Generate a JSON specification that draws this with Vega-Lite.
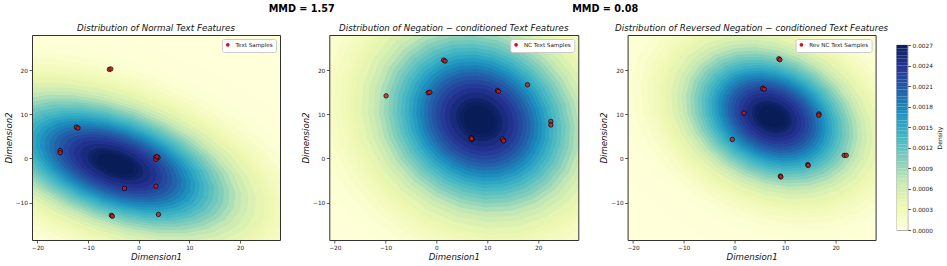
{
  "$schema": "https://vega.github.io/schema/vega-lite/v6.json",
  "background": "white",
  "padding": {"left": 4, "top": 3, "right": 3, "bottom": 4},
  "config": {
    "font": "DejaVu Sans",
    "view": {"fill": "#ffffd9", "stroke": null},
    "axis": {"grid": false, "domain": true, "domainColor": "#333333", "domainWidth": 1, "labelFontSize": 5.8, "labelColor": "#222222", "labelPadding": 1.5, "tickSize": 3, "tickColor": "#333333", "tickWidth": 0.8, "titleFontSize": 8.6, "titleFontStyle": "italic", "titleFontWeight": "normal", "titleColor": "#111111", "titlePadding": 2},
    "title": {"fontSize": 8.7, "fontStyle": "italic", "fontWeight": "normal", "color": "#111111", "offset": 2}
  },
  "datasets": {
    "mmd": [{"g": 1, "label": "MMD = 1.57"}, {"g": 2, "label": "MMD = 0.08"}],
    "pts": [
      {"p": 1, "x": -5.8, "y": 20.2}, {"p": 1, "x": -5.5, "y": 20.3},
      {"p": 1, "x": -12.3, "y": 7.1}, {"p": 1, "x": -12.0, "y": 6.9},
      {"p": 1, "x": -15.5, "y": 1.8}, {"p": 1, "x": -15.5, "y": 1.3},
      {"p": 1, "x": 3.4, "y": 0.3}, {"p": 1, "x": 3.8, "y": 0.2}, {"p": 1, "x": 3.4, "y": -0.2}, {"p": 1, "x": 3.6, "y": 0.4},
      {"p": 1, "x": -2.8, "y": -6.8}, {"p": 1, "x": 3.4, "y": -6.3},
      {"p": 1, "x": -5.4, "y": -12.9}, {"p": 1, "x": -5.2, "y": -13.1},
      {"p": 1, "x": 3.9, "y": -12.7},
      {"p": 2, "x": 1.4, "y": 22.3}, {"p": 2, "x": 1.7, "y": 22.1},
      {"p": 2, "x": -1.6, "y": 14.9}, {"p": 2, "x": -1.3, "y": 15.0},
      {"p": 2, "x": -9.9, "y": 14.2},
      {"p": 2, "x": 12.0, "y": 15.4}, {"p": 2, "x": 12.2, "y": 15.2},
      {"p": 2, "x": 17.9, "y": 16.7},
      {"p": 2, "x": 22.5, "y": 8.4}, {"p": 2, "x": 22.5, "y": 7.6},
      {"p": 2, "x": 6.8, "y": 4.7}, {"p": 2, "x": 7.0, "y": 4.3}, {"p": 2, "x": 6.9, "y": 4.5},
      {"p": 2, "x": 13.0, "y": 4.4}, {"p": 2, "x": 13.2, "y": 4.0},
      {"p": 3, "x": 8.8, "y": 22.6}, {"p": 3, "x": 9.0, "y": 22.4},
      {"p": 3, "x": 5.6, "y": 15.9}, {"p": 3, "x": 5.9, "y": 15.7},
      {"p": 3, "x": 1.9, "y": 10.3},
      {"p": 3, "x": 16.7, "y": 10.1}, {"p": 3, "x": 16.7, "y": 9.8},
      {"p": 3, "x": -0.4, "y": 4.3},
      {"p": 3, "x": 21.7, "y": 0.7}, {"p": 3, "x": 22.1, "y": 0.7},
      {"p": 3, "x": 14.5, "y": -1.4}, {"p": 3, "x": 14.6, "y": -1.6},
      {"p": 3, "x": 9.1, "y": -4.0}, {"p": 3, "x": 9.2, "y": -4.2}
    ],
    "dens": [
      {"p":1,"cx":-4.6,"cy":-1.3,"L":0.000002},{"p":1,"cx":-4.6,"cy":-1.3,"L":0.000005},{"p":1,"cx":-4.6,"cy":-1.3,"L":0.00001},{"p":1,"cx":-4.6,"cy":-1.3,"L":0.00002},{"p":1,"cx":-4.6,"cy":-1.3,"L":0.00005},{"p":1,"cx":-4.6,"cy":-1.3,"L":0.0001},{"p":1,"cx":-4.6,"cy":-1.3,"L":0.00015},{"p":1,"cx":-4.6,"cy":-1.3,"L":0.0002},{"p":1,"cx":-4.6,"cy":-1.3,"L":0.00025},{"p":1,"cx":-4.6,"cy":-1.3,"L":0.0003},{"p":1,"cx":-4.6,"cy":-1.3,"L":0.00035},{"p":1,"cx":-4.6,"cy":-1.3,"L":0.0004},{"p":1,"cx":-4.6,"cy":-1.3,"L":0.0005},{"p":1,"cx":-4.6,"cy":-1.3,"L":0.0006},{"p":1,"cx":-4.6,"cy":-1.3,"L":0.0007},{"p":1,"cx":-4.6,"cy":-1.3,"L":0.0008},{"p":1,"cx":-4.6,"cy":-1.3,"L":0.0009},{"p":1,"cx":-4.6,"cy":-1.3,"L":0.001},{"p":1,"cx":-4.6,"cy":-1.3,"L":0.0011},{"p":1,"cx":-4.6,"cy":-1.3,"L":0.0012},{"p":1,"cx":-4.6,"cy":-1.3,"L":0.0013},{"p":1,"cx":-4.6,"cy":-1.3,"L":0.0014},{"p":1,"cx":-4.6,"cy":-1.3,"L":0.0015},{"p":1,"cx":-4.6,"cy":-1.3,"L":0.0016},{"p":1,"cx":-4.6,"cy":-1.3,"L":0.0017},{"p":1,"cx":-4.6,"cy":-1.3,"L":0.0018},{"p":1,"cx":-4.6,"cy":-1.3,"L":0.0019},{"p":1,"cx":-4.6,"cy":-1.3,"L":0.002},{"p":1,"cx":-4.6,"cy":-1.3,"L":0.0021},{"p":1,"cx":-4.6,"cy":-1.3,"L":0.0022},{"p":1,"cx":-4.6,"cy":-1.3,"L":0.0023},{"p":1,"cx":-4.6,"cy":-1.3,"L":0.0024},{"p":1,"cx":-4.6,"cy":-1.3,"L":0.0025},{"p":1,"cx":-4.6,"cy":-1.3,"L":0.0026},{"p":1,"cx":-4.6,"cy":-1.3,"L":0.00265},{"p":1,"cx":-4.6,"cy":-1.3,"L":0.0027},
      {"p":2,"cx":8.4,"cy":8.8,"L":0.000002},{"p":2,"cx":8.4,"cy":8.8,"L":0.000005},{"p":2,"cx":8.4,"cy":8.8,"L":0.00001},{"p":2,"cx":8.4,"cy":8.8,"L":0.00002},{"p":2,"cx":8.4,"cy":8.8,"L":0.00005},{"p":2,"cx":8.4,"cy":8.8,"L":0.0001},{"p":2,"cx":8.4,"cy":8.8,"L":0.00015},{"p":2,"cx":8.4,"cy":8.8,"L":0.0002},{"p":2,"cx":8.4,"cy":8.8,"L":0.00025},{"p":2,"cx":8.4,"cy":8.8,"L":0.0003},{"p":2,"cx":8.4,"cy":8.8,"L":0.00035},{"p":2,"cx":8.4,"cy":8.8,"L":0.0004},{"p":2,"cx":8.4,"cy":8.8,"L":0.0005},{"p":2,"cx":8.4,"cy":8.8,"L":0.0006},{"p":2,"cx":8.4,"cy":8.8,"L":0.0007},{"p":2,"cx":8.4,"cy":8.8,"L":0.0008},{"p":2,"cx":8.4,"cy":8.8,"L":0.0009},{"p":2,"cx":8.4,"cy":8.8,"L":0.001},{"p":2,"cx":8.4,"cy":8.8,"L":0.0011},{"p":2,"cx":8.4,"cy":8.8,"L":0.0012},{"p":2,"cx":8.4,"cy":8.8,"L":0.0013},{"p":2,"cx":8.4,"cy":8.8,"L":0.0014},{"p":2,"cx":8.4,"cy":8.8,"L":0.0015},{"p":2,"cx":8.4,"cy":8.8,"L":0.0016},{"p":2,"cx":8.4,"cy":8.8,"L":0.0017},{"p":2,"cx":8.4,"cy":8.8,"L":0.0018},{"p":2,"cx":8.4,"cy":8.8,"L":0.0019},{"p":2,"cx":8.4,"cy":8.8,"L":0.002},{"p":2,"cx":8.4,"cy":8.8,"L":0.0021},{"p":2,"cx":8.4,"cy":8.8,"L":0.0022},{"p":2,"cx":8.4,"cy":8.8,"L":0.0023},{"p":2,"cx":8.4,"cy":8.8,"L":0.0024},{"p":2,"cx":8.4,"cy":8.8,"L":0.0025},{"p":2,"cx":8.4,"cy":8.8,"L":0.0026},{"p":2,"cx":8.4,"cy":8.8,"L":0.00265},{"p":2,"cx":8.4,"cy":8.8,"L":0.0027},
      {"p":3,"cx":7.4,"cy":9.4,"L":0.000002},{"p":3,"cx":7.4,"cy":9.4,"L":0.000005},{"p":3,"cx":7.4,"cy":9.4,"L":0.00001},{"p":3,"cx":7.4,"cy":9.4,"L":0.00002},{"p":3,"cx":7.4,"cy":9.4,"L":0.00005},{"p":3,"cx":7.4,"cy":9.4,"L":0.0001},{"p":3,"cx":7.4,"cy":9.4,"L":0.00015},{"p":3,"cx":7.4,"cy":9.4,"L":0.0002},{"p":3,"cx":7.4,"cy":9.4,"L":0.00025},{"p":3,"cx":7.4,"cy":9.4,"L":0.0003},{"p":3,"cx":7.4,"cy":9.4,"L":0.00035},{"p":3,"cx":7.4,"cy":9.4,"L":0.0004},{"p":3,"cx":7.4,"cy":9.4,"L":0.0005},{"p":3,"cx":7.4,"cy":9.4,"L":0.0006},{"p":3,"cx":7.4,"cy":9.4,"L":0.0007},{"p":3,"cx":7.4,"cy":9.4,"L":0.0008},{"p":3,"cx":7.4,"cy":9.4,"L":0.0009},{"p":3,"cx":7.4,"cy":9.4,"L":0.001},{"p":3,"cx":7.4,"cy":9.4,"L":0.0011},{"p":3,"cx":7.4,"cy":9.4,"L":0.0012},{"p":3,"cx":7.4,"cy":9.4,"L":0.0013},{"p":3,"cx":7.4,"cy":9.4,"L":0.0014},{"p":3,"cx":7.4,"cy":9.4,"L":0.0015},{"p":3,"cx":7.4,"cy":9.4,"L":0.0016},{"p":3,"cx":7.4,"cy":9.4,"L":0.0017},{"p":3,"cx":7.4,"cy":9.4,"L":0.0018},{"p":3,"cx":7.4,"cy":9.4,"L":0.0019},{"p":3,"cx":7.4,"cy":9.4,"L":0.002},{"p":3,"cx":7.4,"cy":9.4,"L":0.0021},{"p":3,"cx":7.4,"cy":9.4,"L":0.0022},{"p":3,"cx":7.4,"cy":9.4,"L":0.0023},{"p":3,"cx":7.4,"cy":9.4,"L":0.0024},{"p":3,"cx":7.4,"cy":9.4,"L":0.0025},{"p":3,"cx":7.4,"cy":9.4,"L":0.0026},{"p":3,"cx":7.4,"cy":9.4,"L":0.00265},{"p":3,"cx":7.4,"cy":9.4,"L":0.0027}
    ],
    "cb": [
      {"v":0,"v2":0.00005},{"v":0.00005,"v2":0.0001},{"v":0.0001,"v2":0.00015},{"v":0.00015,"v2":0.0002},{"v":0.0002,"v2":0.00025},{"v":0.00025,"v2":0.0003},{"v":0.0003,"v2":0.00035},{"v":0.00035,"v2":0.0004},{"v":0.0004,"v2":0.00045},{"v":0.00045,"v2":0.0005},
      {"v":0.0005,"v2":0.00055},{"v":0.00055,"v2":0.0006},{"v":0.0006,"v2":0.00065},{"v":0.00065,"v2":0.0007},{"v":0.0007,"v2":0.00075},{"v":0.00075,"v2":0.0008},{"v":0.0008,"v2":0.00085},{"v":0.00085,"v2":0.0009},{"v":0.0009,"v2":0.00095},{"v":0.00095,"v2":0.001},
      {"v":0.001,"v2":0.00105},{"v":0.00105,"v2":0.0011},{"v":0.0011,"v2":0.00115},{"v":0.00115,"v2":0.0012},{"v":0.0012,"v2":0.00125},{"v":0.00125,"v2":0.0013},{"v":0.0013,"v2":0.00135},{"v":0.00135,"v2":0.0014},{"v":0.0014,"v2":0.00145},{"v":0.00145,"v2":0.0015},
      {"v":0.0015,"v2":0.00155},{"v":0.00155,"v2":0.0016},{"v":0.0016,"v2":0.00165},{"v":0.00165,"v2":0.0017},{"v":0.0017,"v2":0.00175},{"v":0.00175,"v2":0.0018},{"v":0.0018,"v2":0.00185},{"v":0.00185,"v2":0.0019},{"v":0.0019,"v2":0.00195},{"v":0.00195,"v2":0.002},
      {"v":0.002,"v2":0.00205},{"v":0.00205,"v2":0.0021},{"v":0.0021,"v2":0.00215},{"v":0.00215,"v2":0.0022},{"v":0.0022,"v2":0.00225},{"v":0.00225,"v2":0.0023},{"v":0.0023,"v2":0.00235},{"v":0.00235,"v2":0.0024},{"v":0.0024,"v2":0.00245},{"v":0.00245,"v2":0.0025},
      {"v":0.0025,"v2":0.00255},{"v":0.00255,"v2":0.0026},{"v":0.0026,"v2":0.00265},{"v":0.00265,"v2":0.0027}
    ]
  },
  "bounds": "flush",
  "spacing": 20,
  "resolve": {"scale": {"shape": "independent", "size": "independent"}, "legend": {"shape": "independent"}},
  "vconcat": [
    {
      "width": 845, "height": 12,
      "view": {"stroke": null, "fill": null},
      "data": {"name": "mmd"},
      "mark": {"type": "text", "fontSize": 9.7, "fontWeight": "bold", "color": "#000000"},
      "encoding": {
        "x": {"field": "g", "type": "quantitative", "scale": {"domain": [0.1114, 2.8956], "nice": false, "zero": false}, "axis": null},
        "text": {"field": "label"}
      }
    },
    {
      "bounds": "flush",
      "spacing": 49.3,
      "resolve": {"scale": {"shape": "independent", "size": "independent"}, "legend": {"shape": "independent"}},
      "hconcat": [
        {
          "width": 248, "height": 205,
          "title": "Distribution of Normal Text Features",
          "resolve": {"axis": {"x": "independent", "y": "independent"}},
          "layer": [
            {
              "data": {"name": "dens"},
              "transform": [{"filter": "datum.p == 1"}],
              "mark": {"type": "point", "filled": true, "clip": true, "opacity": 1, "strokeWidth": 0, "angle": 20, "shape": "M1,0L0.966,0.119L0.866,0.23L0.707,0.325L0.5,0.398L0.259,0.444L0,0.46L-0.259,0.444L-0.5,0.398L-0.707,0.325L-0.866,0.23L-0.966,0.119L-1,0L-0.966,-0.119L-0.866,-0.23L-0.707,-0.325L-0.5,-0.398L-0.259,-0.444L0,-0.46L0.259,-0.444L0.5,-0.398L0.707,-0.325L0.866,-0.23L0.966,-0.119Z"},
              "encoding": {
                "x": {"field": "cx", "type": "quantitative", "scale": {"domain": [-21.07, 27.9], "nice": false, "zero": false}, "axis": {"orient": "bottom", "zindex": 2, "values": [-20, -10, 0, 10, 20], "title": "Dimension1"}},
                "y": {"field": "cy", "type": "quantitative", "scale": {"domain": [-18.5, 28], "nice": false, "zero": false}, "axis": {"orient": "left", "zindex": 2, "values": [-10, 0, 10, 20], "title": "Dimension2"}},
                "size": {"field": "L", "type": "quantitative", "scale": {"type": "log", "domain": [0.00278, 0.000002], "range": [0, 370500]}, "legend": null},
                "color": {"field": "L", "type": "quantitative", "scale": {"domain": [0, 0.0003375, 0.000675, 0.0010125, 0.00135, 0.0016875, 0.002025, 0.0023625, 0.0027], "range": ["#ffffd9", "#edf8b1", "#c7e9b4", "#7fcdbb", "#41b6c4", "#1d91c0", "#225ea8", "#253494", "#081d58"], "interpolate": "rgb"}, "legend": null},
                "order": {"field": "L", "type": "quantitative", "sort": "ascending"}
              }
            },
            {
              "data": {"name": "pts"},
              "transform": [{"filter": "datum.p == 1"}],
              "mark": {"type": "point", "filled": true, "clip": true, "size": 20, "opacity": 1, "fill": "#d41515", "fillOpacity": 0.75, "stroke": "#000000", "strokeWidth": 0.8, "strokeOpacity": 0.85},
              "encoding": {
                "x": {"field": "x", "type": "quantitative", "axis": {"orient": "top", "zindex": 2, "labels": false, "ticks": false, "title": null}},
                "y": {"field": "y", "type": "quantitative", "axis": {"orient": "right", "zindex": 2, "labels": false, "ticks": false, "title": null}},
                "shape": {"datum": "Text Samples", "scale": {"range": ["circle"]}, "legend": {"orient": "top-right", "offset": 4, "title": null, "fillColor": "#ffffff", "strokeColor": "#cccccc", "padding": 3, "cornerRadius": 2, "labelFontSize": 5.6, "labelColor": "#222222", "symbolType": "circle", "symbolSize": 14, "symbolFillColor": "#ff6060", "symbolStrokeColor": "#333333", "symbolStrokeWidth": 0.6, "labelOffset": 5}}
              }
            }
          ]
        },
        {
          "width": 249, "height": 205,
          "title": "Distribution of Negation − conditioned Text Features",
          "resolve": {"axis": {"x": "independent", "y": "independent"}},
          "layer": [
            {
              "data": {"name": "dens"},
              "transform": [{"filter": "datum.p == 2"}],
              "mark": {"type": "point", "filled": true, "clip": true, "opacity": 1, "strokeWidth": 0, "angle": 30, "shape": "M1,0L0.966,0.22L0.866,0.425L0.707,0.601L0.5,0.736L0.259,0.821L0,0.85L-0.259,0.821L-0.5,0.736L-0.707,0.601L-0.866,0.425L-0.966,0.22L-1,0L-0.966,-0.22L-0.866,-0.425L-0.707,-0.601L-0.5,-0.736L-0.259,-0.821L0,-0.85L0.259,-0.821L0.5,-0.736L0.707,-0.601L0.866,-0.425L0.966,-0.22Z"},
              "encoding": {
                "x": {"field": "cx", "type": "quantitative", "scale": {"domain": [-21.07, 27.9], "nice": false, "zero": false}, "axis": {"orient": "bottom", "zindex": 2, "values": [-20, -10, 0, 10, 20], "title": "Dimension1"}},
                "y": {"field": "cy", "type": "quantitative", "scale": {"domain": [-18.5, 28], "nice": false, "zero": false}, "axis": {"orient": "left", "zindex": 2, "values": [-10, 0, 10, 20], "title": "Dimension2"}},
                "size": {"field": "L", "type": "quantitative", "scale": {"type": "log", "domain": [0.00278, 0.000002], "range": [0, 252200]}, "legend": null},
                "color": {"field": "L", "type": "quantitative", "scale": {"domain": [0, 0.0003375, 0.000675, 0.0010125, 0.00135, 0.0016875, 0.002025, 0.0023625, 0.0027], "range": ["#ffffd9", "#edf8b1", "#c7e9b4", "#7fcdbb", "#41b6c4", "#1d91c0", "#225ea8", "#253494", "#081d58"], "interpolate": "rgb"}, "legend": null},
                "order": {"field": "L", "type": "quantitative", "sort": "ascending"}
              }
            },
            {
              "data": {"name": "pts"},
              "transform": [{"filter": "datum.p == 2"}],
              "mark": {"type": "point", "filled": true, "clip": true, "size": 20, "opacity": 1, "fill": "#d41515", "fillOpacity": 0.75, "stroke": "#000000", "strokeWidth": 0.8, "strokeOpacity": 0.85},
              "encoding": {
                "x": {"field": "x", "type": "quantitative", "axis": {"orient": "top", "zindex": 2, "labels": false, "ticks": false, "title": null}},
                "y": {"field": "y", "type": "quantitative", "axis": {"orient": "right", "zindex": 2, "labels": false, "ticks": false, "title": null}},
                "shape": {"datum": "NC Text Samples", "scale": {"range": ["circle"]}, "legend": {"orient": "top-right", "offset": 4, "title": null, "fillColor": "#ffffff", "strokeColor": "#cccccc", "padding": 3, "cornerRadius": 2, "labelFontSize": 5.6, "labelColor": "#222222", "symbolType": "circle", "symbolSize": 14, "symbolFillColor": "#ff6060", "symbolStrokeColor": "#333333", "symbolStrokeWidth": 0.6, "labelOffset": 5}}
              }
            }
          ]
        },
        {
          "bounds": "flush",
          "spacing": 21,
          "center": true,
          "resolve": {"scale": {"shape": "independent", "size": "independent"}, "legend": {"shape": "independent"}},
          "hconcat": [
            {
              "width": 248, "height": 205,
              "title": "Distribution of Reversed Negation − conditioned Text Features",
              "resolve": {"axis": {"x": "independent", "y": "independent"}},
              "layer": [
                {
                  "data": {"name": "dens"},
                  "transform": [{"filter": "datum.p == 3"}],
                  "mark": {"type": "point", "filled": true, "clip": true, "opacity": 1, "strokeWidth": 0, "angle": 25, "shape": "M1,0L0.966,0.186L0.866,0.36L0.707,0.509L0.5,0.624L0.259,0.696L0,0.72L-0.259,0.696L-0.5,0.624L-0.707,0.509L-0.866,0.36L-0.966,0.186L-1,0L-0.966,-0.186L-0.866,-0.36L-0.707,-0.509L-0.5,-0.624L-0.259,-0.696L0,-0.72L0.259,-0.696L0.5,-0.624L0.707,-0.509L0.866,-0.36L0.966,-0.186Z"},
                  "encoding": {
                    "x": {"field": "cx", "type": "quantitative", "scale": {"domain": [-21.07, 27.9], "nice": false, "zero": false}, "axis": {"orient": "bottom", "zindex": 2, "values": [-20, -10, 0, 10, 20], "title": "Dimension1"}},
                    "y": {"field": "cy", "type": "quantitative", "scale": {"domain": [-18.5, 28], "nice": false, "zero": false}, "axis": {"orient": "left", "zindex": 2, "values": [-10, 0, 10, 20], "title": "Dimension2"}},
                    "size": {"field": "L", "type": "quantitative", "scale": {"type": "log", "domain": [0.00278, 0.000002], "range": [0, 188100]}, "legend": null},
                    "color": {"field": "L", "type": "quantitative", "scale": {"domain": [0, 0.0003375, 0.000675, 0.0010125, 0.00135, 0.0016875, 0.002025, 0.0023625, 0.0027], "range": ["#ffffd9", "#edf8b1", "#c7e9b4", "#7fcdbb", "#41b6c4", "#1d91c0", "#225ea8", "#253494", "#081d58"], "interpolate": "rgb"}, "legend": null},
                    "order": {"field": "L", "type": "quantitative", "sort": "ascending"}
                  }
                },
                {
                  "data": {"name": "pts"},
                  "transform": [{"filter": "datum.p == 3"}],
                  "mark": {"type": "point", "filled": true, "clip": true, "size": 20, "opacity": 1, "fill": "#d41515", "fillOpacity": 0.75, "stroke": "#000000", "strokeWidth": 0.8, "strokeOpacity": 0.85},
                  "encoding": {
                    "x": {"field": "x", "type": "quantitative", "axis": {"orient": "top", "zindex": 2, "labels": false, "ticks": false, "title": null}},
                    "y": {"field": "y", "type": "quantitative", "axis": {"orient": "right", "zindex": 2, "labels": false, "ticks": false, "title": null}},
                    "shape": {"datum": "Rev NC Text Samples", "scale": {"range": ["circle"]}, "legend": {"orient": "top-right", "offset": 4, "title": null, "fillColor": "#ffffff", "strokeColor": "#cccccc", "padding": 3, "cornerRadius": 2, "labelFontSize": 5.6, "labelColor": "#222222", "symbolType": "circle", "symbolSize": 14, "symbolFillColor": "#ff6060", "symbolStrokeColor": "#333333", "symbolStrokeWidth": 0.6, "labelOffset": 5}}
                  }
                }
              ]
            },
            {
              "width": 11, "height": 185,
              "view": {"stroke": "#808080", "strokeWidth": 0.8, "fill": null},
              "data": {"name": "cb"},
              "mark": {"type": "rect"},
              "encoding": {
                "y": {"field": "v", "type": "quantitative", "scale": {"domain": [0, 0.0027], "nice": false, "zero": false}, "axis": {"orient": "right", "domain": false, "values": [0, 0.0003, 0.0006, 0.0009, 0.0012, 0.0015, 0.0018, 0.0021, 0.0024, 0.0027], "format": ".4f", "title": "Density", "titleAngle": 270, "titleBaseline": "top", "titleFontStyle": "normal", "titleFontSize": 6, "titlePadding": 4}},
                "y2": {"field": "v2"},
                "color": {"field": "v", "type": "quantitative", "scale": {"domain": [0, 0.0003375, 0.000675, 0.0010125, 0.00135, 0.0016875, 0.002025, 0.0023625, 0.0027], "range": ["#ffffd9", "#edf8b1", "#c7e9b4", "#7fcdbb", "#41b6c4", "#1d91c0", "#225ea8", "#253494", "#081d58"], "interpolate": "rgb"}, "legend": null}
              }
            }
          ]
        }
      ]
    }
  ]
}
